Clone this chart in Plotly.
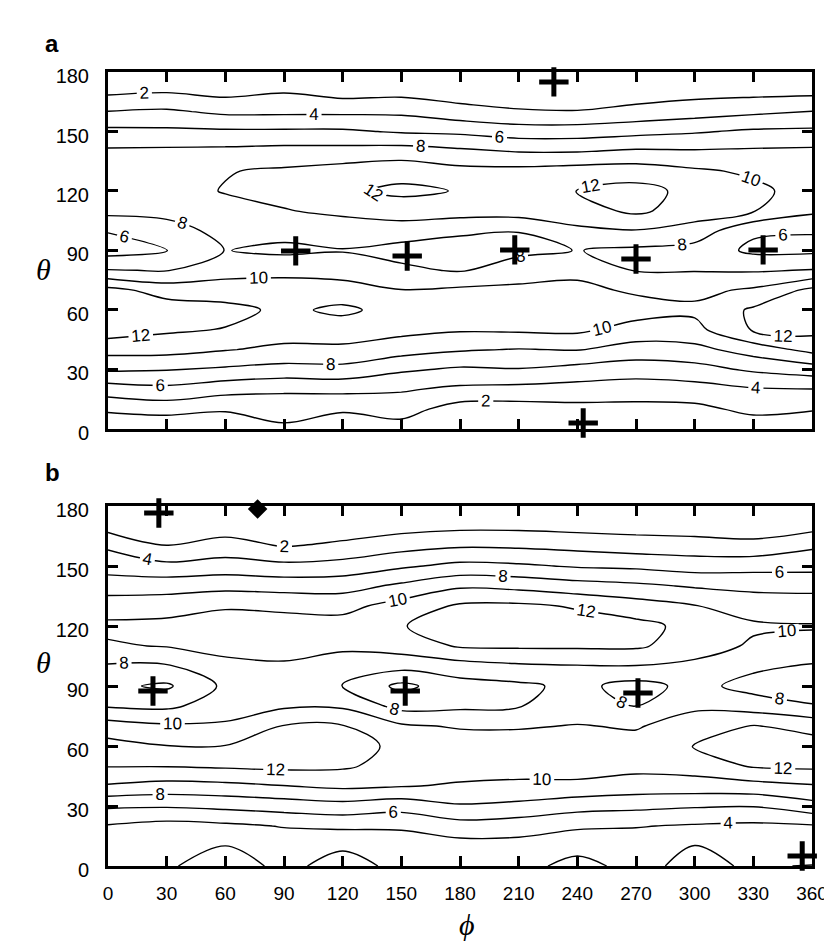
import plotly.graph_objects as go

# ---- grid (degrees) ----
phi_deg = [0, 30, 60, 90, 120, 150, 180, 210, 240, 270, 300, 330, 360]
theta_deg = [0, 10, 20, 30, 40, 50, 60, 70, 80, 90, 100, 110, 120, 130, 140, 150, 160, 170, 180]

# ---- panel a: values read per phi column (theta 0 -> 180) ----
a_000 = [0.0, 2.4, 5.0, 8.3, 10.7, 13.0, 13.2, 12.6, 8.1, 5.2, 6.1, 8.6, 9.3, 9.4, 8.3, 6.5, 4.05, 1.6, 0.0]
a_030 = [0.2, 2.8, 5.5, 8.1, 10.7, 12.3, 13.0, 11.2, 7.9, 5.9, 7.2, 8.6, 9.3, 9.4, 8.4, 6.4, 4.3, 1.9, 0.0]
a_060 = [0.0, 2.3, 4.7, 7.7, 10.1, 11.9, 12.6, 11.0, 9.2, 8.05, 8.6, 9.4, 10.1, 9.9, 8.5, 6.3, 3.6, 1.4, 0.0]
a_090 = [1.6, 2.9, 4.3, 7.3, 9.6, 10.9, 11.6, 11.0, 9.4, 7.6, 8.6, 9.9, 10.6, 10.3, 8.7, 6.3, 3.6, 1.9, 0.0]
a_120 = [0.5, 2.3, 4.5, 7.4, 9.6, 11.0, 12.4, 10.9, 9.1, 7.9, 9.0, 10.4, 11.7, 10.8, 8.7, 6.3, 3.6, 1.2, 0.0]
a_150 = [1.2, 2.8, 4.2, 6.3, 8.8, 10.6, 11.2, 10.05, 8.4, 7.3, 9.0, 11.0, 12.4, 11.3, 8.9, 5.8, 3.6, 1.4, 0.0]
a_180 = [0.0, 1.1, 3.6, 5.7, 8.2, 10.2, 10.8, 10.4, 7.8, 7.2, 8.3, 10.9, 11.9, 10.6, 8.4, 5.6, 2.7, 1.0, 0.0]
a_210 = [0.0, 1.1, 3.4, 5.9, 7.9, 10.3, 10.9, 10.4, 9.1, 7.5, 8.05, 11.0, 11.5, 10.6, 7.9, 5.0, 2.2, 0.8, 0.0]
a_240 = [0.0, 1.4, 3.2, 5.3, 8.1, 10.4, 11.2, 10.5, 9.5, 8.05, 9.6, 11.2, 12.05, 10.9, 7.9, 5.0, 2.1, 0.6, 0.0]
a_270 = [0.0, 1.4, 3.0, 4.9, 7.2, 9.2, 10.9, 9.7, 7.9, 7.6, 9.9, 12.4, 12.7, 11.0, 8.3, 5.4, 2.6, 1.0, 0.0]
a_300 = [0.0, 1.5, 3.2, 5.3, 7.4, 9.4, 10.4, 9.5, 7.9, 7.2, 9.2, 11.0, 11.4, 10.3, 8.2, 5.8, 3.1, 1.3, 0.0]
a_330 = [0.8, 2.5, 3.8, 6.3, 8.9, 12.2, 12.3, 10.3, 7.8, 5.6, 6.3, 10.1, 10.4, 9.7, 8.3, 6.3, 3.6, 1.4, 0.0]
a_360 = [0.0, 2.2, 3.95, 7.0, 10.6, 12.6, 13.2, 12.5, 8.1, 5.6, 6.1, 8.4, 9.3, 9.4, 8.4, 6.4, 4.05, 1.5, 0.0]

# ---- panel b ----
b_000 = [2.05, 2.9, 3.85, 6.3, 9.8, 12.1, 12.7, 10.9, 7.8, 6.4, 7.8, 9.8, 10.4, 9.1, 7.0, 5.2, 3.7, 1.2, 0.0]
b_030 = [2.1, 2.6, 3.3, 6.2, 9.3, 12.1, 12.05, 10.3, 7.6, 5.7, 7.8, 10.1, 10.6, 9.1, 7.2, 4.5, 2.05, 0.8, 0.0]
b_060 = [1.6, 1.95, 3.6, 6.5, 9.5, 12.3, 12.05, 10.3, 9.0, 8.4, 9.5, 10.6, 10.9, 9.8, 7.4, 4.9, 2.8, 1.0, 0.0]
b_090 = [2.2, 2.9, 4.1, 6.9, 9.95, 12.5, 13.0, 12.1, 9.7, 9.9, 9.8, 10.6, 10.8, 9.6, 7.2, 4.5, 1.9, 0.8, 0.0]
b_120 = [1.7, 2.1, 4.4, 7.3, 10.4, 12.3, 12.7, 12.1, 9.7, 7.9, 9.0, 10.4, 10.8, 9.4, 7.2, 4.8, 2.4, 0.9, 0.0]
b_150 = [2.2, 2.9, 4.3, 6.8, 10.1, 11.2, 11.6, 10.3, 7.3, 5.5, 8.7, 10.9, 11.9, 10.8, 8.4, 5.7, 3.3, 1.2, 0.0]
b_180 = [2.3, 3.2, 5.2, 7.8, 9.8, 10.8, 11.1, 9.8, 7.6, 7.2, 9.2, 12.2, 12.9, 12.3, 9.7, 6.5, 3.8, 1.5, 0.0]
b_210 = [2.2, 3.3, 4.9, 7.5, 9.6, 10.8, 11.0, 9.8, 7.9, 7.6, 9.7, 12.3, 13.0, 12.4, 9.4, 6.3, 3.7, 1.5, 0.0]
b_240 = [1.8, 2.2, 4.4, 6.7, 9.6, 10.8, 11.0, 10.1, 8.9, 8.5, 9.9, 12.3, 12.9, 11.8, 8.8, 5.8, 3.4, 1.3, 0.0]
b_270 = [2.2, 3.0, 4.1, 6.5, 9.1, 10.6, 10.8, 9.8, 7.9, 7.3, 9.95, 12.3, 12.6, 10.9, 8.4, 5.6, 3.0, 1.2, 0.0]
b_300 = [1.8, 1.95, 3.8, 6.2, 9.1, 10.9, 12.1, 11.1, 9.6, 8.6, 9.5, 11.0, 11.4, 10.1, 7.8, 5.1, 2.9, 1.0, 0.0]
b_330 = [2.1, 2.9, 3.6, 6.1, 9.3, 12.2, 12.8, 12.1, 9.0, 7.3, 8.4, 9.7, 10.3, 9.1, 7.5, 5.3, 2.6, 0.9, 0.0]
b_360 = [1.95, 2.9, 3.8, 7.3, 9.8, 12.4, 12.9, 11.3, 8.2, 6.4, 7.8, 9.6, 10.1, 9.2, 7.3, 5.4, 3.7, 1.3, 0.0]

# ---- markers ----
a_cross_phi = [228, 243, 96, 153, 208, 270, 335]
a_cross_theta = [175, 3, 89.8, 87.2, 90.3, 85.7, 90.3]
b_cross_phi = [26, 23, 152, 271, 355]
b_cross_theta = [176.5, 87.5, 87.5, 86.5, 5]
b_diamond_phi = [76.5]
b_diamond_theta = [178.5]

contour_levels = dict(start=2, end=12, size=2)
x_ticks = [0, 30, 60, 90, 120, 150, 180, 210, 240, 270, 300, 330, 360]
y_ticks = [0, 30, 60, 90, 120, 150, 180]


def grid(cols):
    return [[c[i] for c in cols] for i in range(len(theta_deg))]


za = grid([a_000, a_030, a_060, a_090, a_120, a_150, a_180, a_210, a_240, a_270, a_300, a_330, a_360])
zb = grid([b_000, b_030, b_060, b_090, b_120, b_150, b_180, b_210, b_240, b_270, b_300, b_330, b_360])

FONT = "Liberation Sans, Arial, sans-serif"
SERIF = "Liberation Serif, DejaVu Serif, serif"


def contour(z, xa, ya):
    return go.Contour(
        x=phi_deg, y=theta_deg, z=z, xaxis=xa, yaxis=ya,
        showscale=False, hoverinfo="skip",
        contours=dict(coloring="none", showlabels=True,
                      labelfont=dict(family=FONT, size=17, color="black"),
                      **contour_levels),
        line=dict(color="black", width=1.4, smoothing=1.0),
    )


def crosses(px, py, xa, ya):
    return go.Scatter(x=px, y=py, xaxis=xa, yaxis=ya, mode="markers", cliponaxis=False,
                      marker=dict(symbol="cross-thin", size=21,
                                  line=dict(color="black", width=5)),
                      showlegend=False, hoverinfo="skip")


fig = go.Figure()
fig.add_trace(contour(za, "x", "y"))
fig.add_trace(contour(zb, "x2", "y2"))
fig.add_trace(crosses(a_cross_phi, a_cross_theta, "x", "y"))
fig.add_trace(crosses(b_cross_phi, b_cross_theta, "x2", "y2"))
fig.add_trace(go.Scatter(x=b_diamond_phi, y=b_diamond_theta, xaxis="x2", yaxis="y2",
                         mode="markers", cliponaxis=False,
                         marker=dict(symbol="diamond", size=15, color="black"),
                         showlegend=False, hoverinfo="skip"))

axis_common = dict(showline=True, linewidth=3, linecolor="black", mirror="ticks",
                   ticks="inside", ticklen=10, tickwidth=2.5, tickcolor="black",
                   showgrid=False, zeroline=False, fixedrange=True)

fig.update_layout(
    width=832, height=952,
    margin=dict(l=100, r=17, t=64, b=94),
    paper_bgcolor="white", plot_bgcolor="white",
    showlegend=False,
    xaxis=dict(domain=[0, 1], anchor="y", range=[0, 360], tickvals=x_ticks,
               showticklabels=False, **axis_common),
    yaxis=dict(domain=[0.5504, 1], anchor="x", range=[0, 180], tickvals=y_ticks,
               tickfont=dict(family=FONT, size=20, color="black"),
               ticklabelstandoff=12, ticklabelshift=4, **axis_common),
    xaxis2=dict(domain=[0, 1], anchor="y2", range=[0, 360], tickvals=x_ticks,
                tickfont=dict(family=FONT, size=19, color="black"),
                ticklabelstandoff=8, **axis_common),
    yaxis2=dict(domain=[0, 0.4534], anchor="x2", range=[0, 180], tickvals=y_ticks,
                tickfont=dict(family=FONT, size=20, color="black"),
                ticklabelstandoff=12, ticklabelshift=4, **axis_common),
    annotations=[
        dict(text="<b>a</b>", x=-0.093, y=1.055, xref="paper", yref="paper",
             showarrow=False, font=dict(family=FONT, size=24, color="black")),
        dict(text="<b>b</b>", x=-0.093, y=0.495, xref="paper", yref="paper",
             showarrow=False, font=dict(family=FONT, size=24, color="black")),
        dict(text="<i>θ</i>", x=-0.105, y=0.7746, xref="paper", yref="paper",
             showarrow=False, font=dict(family=SERIF, size=30, color="black")),
        dict(text="<i>θ</i>", x=-0.105, y=0.233, xref="paper", yref="paper",
             showarrow=False, font=dict(family=SERIF, size=30, color="black")),
        dict(text="<i>ϕ</i>", x=0.51, y=-0.097, xref="paper", yref="paper",
             showarrow=False, font=dict(family=SERIF, size=30, color="black")),
    ],
)

fig.write_html("out.html")
